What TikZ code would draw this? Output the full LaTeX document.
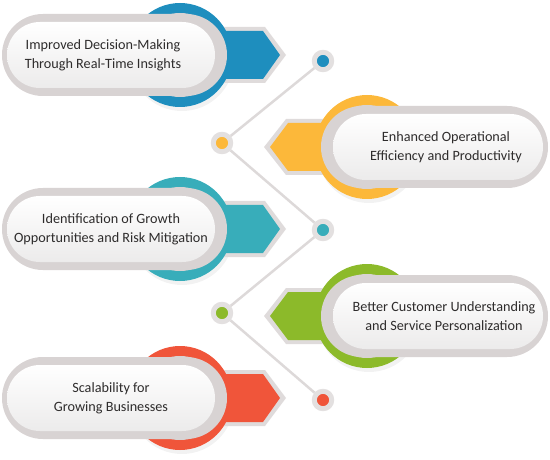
\documentclass[tikz,border=0pt]{standalone}
\usepackage{fontspec}
\setmainfont{Carlito}

\definecolor{cblue}{HTML}{1E8EBE}
\definecolor{cyellow}{HTML}{FCB83A}
\definecolor{cteal}{HTML}{38ADBA}
\definecolor{cgreen}{HTML}{8CBA2A}
\definecolor{cred}{HTML}{F0553A}
\definecolor{textgray}{HTML}{2E2C2C}
\definecolor{pillgray}{HTML}{D8D3D3}
\definecolor{arrowgray}{HTML}{DFDBDB}
\definecolor{linegray}{HTML}{DDD9D9}
\definecolor{dotgray}{HTML}{E3E0E0}
\definecolor{pillwhite}{HTML}{ECEBEB}

\begin{document}
\begin{tikzpicture}[x=1pt, y=-1pt, line join=round,
	itemtext/.style={font=\fontsize{14.2}{19}\selectfont, text=textgray, align=center},
	dotnode/.style={circle, draw=dotgray, line width=5pt, minimum size=17.5pt, inner sep=0pt},
	link/.style={draw=linegray, line width=2.5pt}]
	\useasboundingbox (0,0) rectangle (550,460);
	
	% 1. Small dots of the zigzag line
	\node[dotnode, fill=cblue]   (dImp) at (323,61)  {};
	\node[dotnode, fill=cyellow] (dEff) at (222,143) {};
	\node[dotnode, fill=cteal]   (dGro) at (323,230) {};
	\node[dotnode, fill=cgreen]  (dCus) at (222,313) {};
	\node[dotnode, fill=cred]    (dSca) at (323,400) {};
	
	% zigzag connectors
	\draw[link] (dImp) -- (dEff) -- (dGro) -- (dCus) -- (dSca);
	
	% 2. Items on the left (arrow points right)
	\foreach \cy/\col/\nm/\tx/\txt in {
		55/cblue/imp/103/{Improved Decision-Making\\Through Real-Time Insights},
		229/cteal/gro/111/{Identification of Growth\\Opportunities and Risk Mitigation},
		398/cred/sca/111/{Scalability for\\Growing Businesses}}{
		\fill[black, opacity=0.05] (182,\cy+4) circle (52pt);
		\fill[arrowgray] (212,\cy-28) -- (265,\cy-28) -- (286,\cy) -- (265,\cy+28) -- (212,\cy+28) -- cycle;
		\fill[\col] (212,\cy-24) -- (263,\cy-24) -- (280,\cy) -- (263,\cy+24) -- (212,\cy+24) -- cycle;
		\fill[\col] (180,\cy) circle (52pt);
		\fill[pillgray] (180,\cy) circle (42pt);
		\fill[pillgray, rounded corners=40.9pt] (2,\cy-41) rectangle (227,\cy+41);
		\shade[top color=white, bottom color=pillwhite, rounded corners=32.9pt] (7,\cy-33) rectangle (215,\cy+33);
		\node[itemtext] (\nm) at (\tx,\cy) {\txt};
	}
	
	% 3. Items on the right (arrow points left)
	\foreach \cy/\col/\nm/\tx/\txt in {
		147/cyellow/eff/446/{Enhanced Operational\\Efficiency and Productivity},
		316/cgreen/cus/444/{Better Customer Understanding\\and Service Personalization}}{
		\fill[black, opacity=0.05] (369,\cy+4) circle (52pt);
		\fill[arrowgray] (338,\cy-28) -- (286,\cy-28) -- (264,\cy) -- (286,\cy+28) -- (338,\cy+28) -- cycle;
		\fill[\col] (338,\cy-24) -- (288,\cy-24) -- (270,\cy) -- (288,\cy+24) -- (338,\cy+24) -- cycle;
		\fill[\col] (367,\cy) circle (52pt);
		\fill[pillgray] (367,\cy) circle (42pt);
		\fill[pillgray, rounded corners=40.9pt] (321,\cy-41) rectangle (548,\cy+41);
		\shade[top color=white, bottom color=pillwhite, rounded corners=32.9pt] (333,\cy-33) rectangle (543,\cy+33);
		\node[itemtext] (\nm) at (\tx,\cy) {\txt};
	}
\end{tikzpicture}
\end{document}
